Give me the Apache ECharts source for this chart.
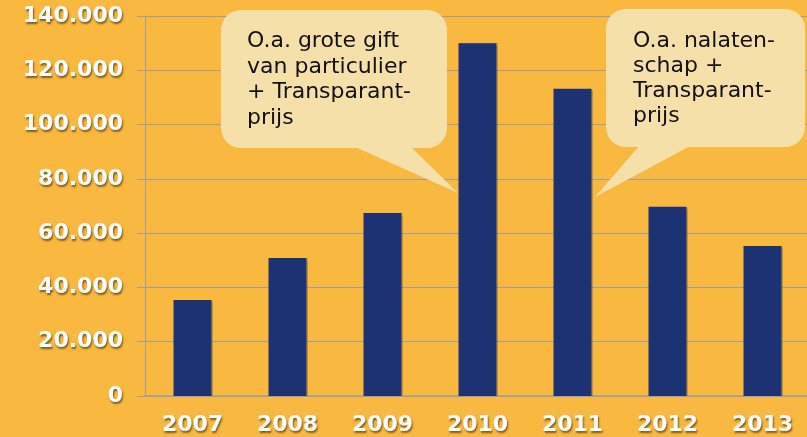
<!DOCTYPE html>
<html>
<head>
<meta charset="utf-8">
<script src="https://cdn.jsdelivr.net/npm/echarts@6/dist/echarts.min.js"></script>
<style>
html,body{margin:0;padding:0;background:#f9b840;overflow:hidden;width:807px;height:437px;}
#chart{width:810px;height:437px;}
</style>
</head>
<body>
<div id="chart"></div>
<script>
const years = ['2007','2008','2009','2010','2011','2012','2013'];
const amounts = [35400, 50800, 67400, 130000, 113200, 69700, 55300];
const yTicks = {min: 0, max: 140000, step: 20000};
const callout1Text = 'O.a. grote gift\nvan particulier\n+ Transparant-\nprijs';
const callout2Text = 'O.a. nalaten-\nschap +\nTransparant-\nprijs';

const chart = echarts.init(document.getElementById('chart'), null, {renderer: 'canvas'});
const labelStyle = {
  color: '#ffffff', fontFamily: 'DejaVu Sans', fontWeight: 'bold', fontSize: 22,
  textShadowColor: 'rgba(90,60,10,0.75)', textShadowBlur: 2, textShadowOffsetX: 1, textShadowOffsetY: 2
};
const bubbleFill = '#f6e0aa';
const bubbleText = {fill: '#111', font: '22px "DejaVu Sans"'};
const gridGray = '#9f9e9a';

chart.setOption({
  backgroundColor: '#f9b840',
  animation: false,
  grid: {left: 145, right: 0, top: 16, bottom: 41},
  xAxis: {
    type: 'category', data: years,
    axisLine: {show: true, lineStyle: {color: gridGray, width: 1.5}},
    axisTick: {show: false},
    axisLabel: Object.assign({margin: 18}, labelStyle)
  },
  yAxis: {
    type: 'value', min: yTicks.min, max: yTicks.max, interval: yTicks.step,
    axisLine: {show: true, lineStyle: {color: gridGray, width: 1}},
    axisTick: {show: true, length: 8, lineStyle: {color: gridGray}},
    splitLine: {show: true, lineStyle: {color: gridGray, width: 1}},
    axisLabel: Object.assign({margin: 22, formatter: v => v === 0 ? '0' : v.toLocaleString('de-DE')}, labelStyle)
  },
  series: [{
    type: 'bar', data: amounts, barWidth: 38,
    itemStyle: {color: '#1c3273', shadowColor: 'rgba(60,60,60,0.3)', shadowBlur: 1, shadowOffsetX: 1, shadowOffsetY: 0}
  }],
  graphic: [
    {type: 'polygon', shape: {points: [[353,146],[410,146],[458,193]]}, style: {fill: bubbleFill}, z: 100},
    {type: 'rect', shape: {x: 221, y: 10, width: 226, height: 138, r: 20}, style: {fill: bubbleFill}, z: 100},
    {type: 'text', x: 247, y: 29, style: Object.assign({text: callout1Text, lineHeight: 25.5, verticalAlign: 'top'}, bubbleText), z: 101},
    {type: 'polygon', shape: {points: [[640,145],[692,145],[595,197]]}, style: {fill: bubbleFill}, z: 100},
    {type: 'rect', shape: {x: 606, y: 9, width: 199, height: 138, r: 20}, style: {fill: bubbleFill}, z: 100},
    {type: 'text', x: 633, y: 29, style: Object.assign({text: callout2Text, lineHeight: 25, verticalAlign: 'top'}, bubbleText), z: 101}
  ]
});
</script>
</body>
</html>
